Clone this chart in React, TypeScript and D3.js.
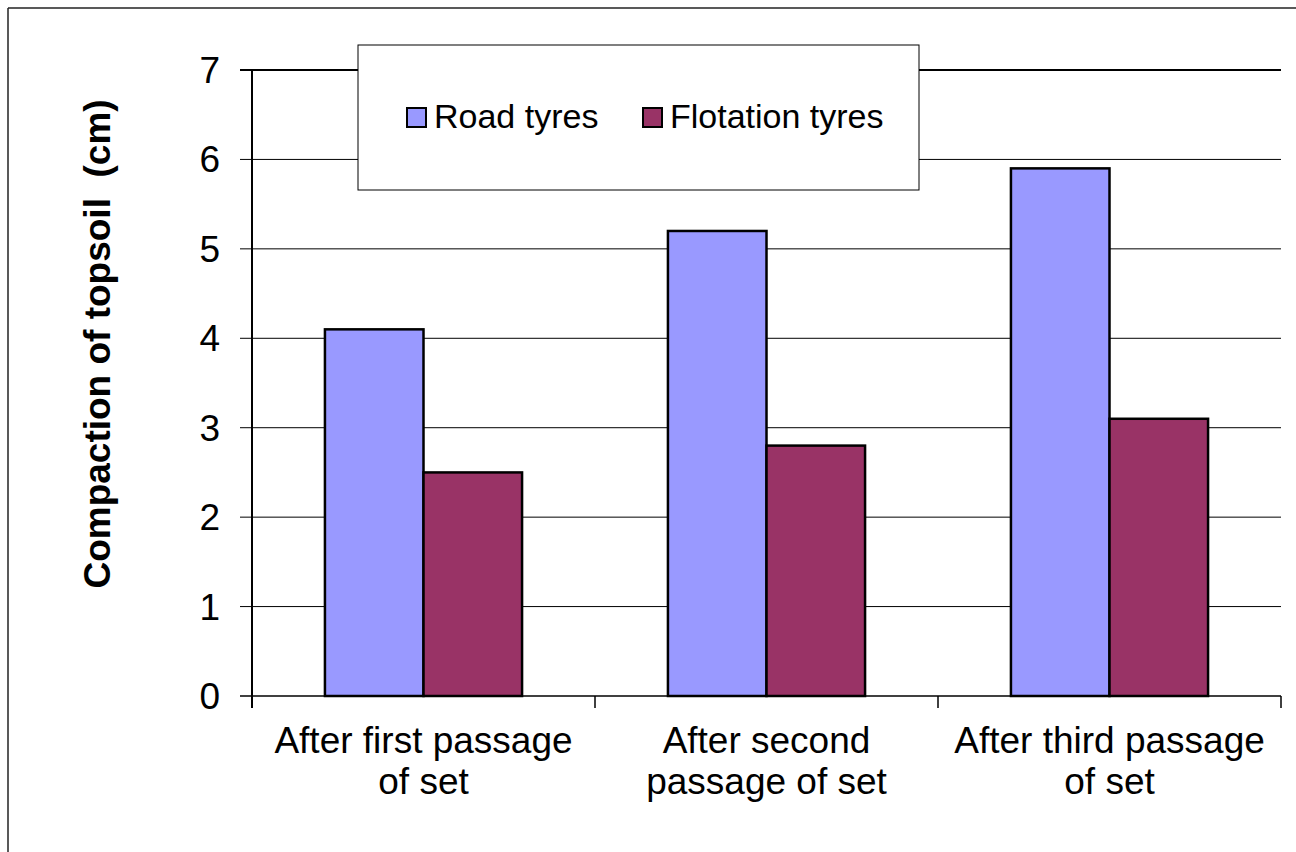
import React from "react";
import * as d3 from "d3";

const categories = [
  ["After first passage", "of set"],
  ["After second", "passage of set"],
  ["After third passage", "of set"],
];
const seriesNames = ["Road tyres", "Flotation tyres"];
const roadTyres = [4.1, 5.2, 5.9];
const flotationTyres = [2.5, 2.8, 3.1];
const seriesColors = ["#9999FF", "#993366"];
const yTicks = [0, 1, 2, 3, 4, 5, 6, 7];

const W = 1296;
const H = 852;
const FONT = "'Liberation Sans', Arial, sans-serif";

export default function App() {
  const left = 252;
  const right = 1281;
  const top = 70;
  const bottom = 696;

  const catKeys = categories.map((c) => c.join(" "));
  const x0 = d3.scaleBand<string>().domain(catKeys).range([left, right]).padding(0);
  const x1 = d3
    .scaleBand<string>()
    .domain(seriesNames)
    .range([0, x0.bandwidth()])
    .paddingInner(0)
    .paddingOuter(0.74);
  const y = d3.scaleLinear().domain([0, 7]).range([bottom, top]);

  const series = [roadTyres, flotationTyres];

  return (
    <div style={{ position: "absolute", left: 0, top: 0 }}>
      <svg width={W} height={H} style={{ display: "block", background: "#fff" }}>
        {/* outer chart frame */}
        <line x1={8} y1={8} x2={W} y2={8} stroke="#222" strokeWidth={1.5} />
        <line x1={8} y1={8} x2={8} y2={H} stroke="#222" strokeWidth={1.5} />

        {/* horizontal gridlines and y ticks */}
        {yTicks.map((t) => (
          <g key={t}>
            <line
              x1={240}
              x2={right}
              y1={y(t)}
              y2={y(t)}
              stroke="#000"
              strokeWidth={t === 7 ? 2 : t === 0 ? 1.5 : 1}
            />
            <text
              x={220}
              y={y(t) + 13}
              textAnchor="end"
              fontFamily={FONT}
              fontSize={37}
              fill="#000"
            >
              {t}
            </text>
          </g>
        ))}

        {/* bars */}
        {catKeys.map((c, i) => (
          <g key={c} transform={`translate(${x0(c)},0)`}>
            {seriesNames.map((s, j) => (
              <rect
                key={s}
                x={x1(s)}
                y={y(series[j][i])}
                width={x1.bandwidth()}
                height={y(0) - y(series[j][i])}
                fill={seriesColors[j]}
                stroke="#000"
                strokeWidth={2.5}
              />
            ))}
          </g>
        ))}

        {/* y axis */}
        <line x1={left} x2={left} y1={top} y2={bottom + 12} stroke="#000" strokeWidth={2} />
        {/* category tick marks */}
        {[...catKeys.map((c) => x0(c) as number), right].map((xv, i) => (
          <line key={i} x1={xv} x2={xv} y1={bottom} y2={bottom + 12} stroke="#000" strokeWidth={1.5} />
        ))}

        {/* category labels */}
        {categories.map((lines, i) => {
          const cx = (x0(catKeys[i]) as number) + x0.bandwidth() / 2;
          return (
            <text key={i} textAnchor="middle" fontFamily={FONT} fontSize={37} fill="#000">
              {lines.map((ln, k) => (
                <tspan key={k} x={cx} y={753 + k * 41}>
                  {ln}
                </tspan>
              ))}
            </text>
          );
        })}

        {/* y axis title */}
        <text
          transform={`translate(110,344) rotate(-90)`}
          textAnchor="middle"
          fontFamily={FONT}
          fontSize={37}
          fontWeight="bold"
          fill="#000"
          style={{ whiteSpace: "pre" }}
        >
          {"Compaction of topsoil  (cm)"}
        </text>

        {/* legend */}
        <rect x={358} y={45} width={561} height={145} fill="#fff" stroke="#000" strokeWidth={1} />
        {seriesNames.map((s, j) => {
          const sx = j === 0 ? 407 : 643;
          return (
            <g key={s}>
              <rect x={sx} y={108} width={19} height={19} fill={seriesColors[j]} stroke="#000" strokeWidth={2} />
              <text x={sx + 27} y={128} fontFamily={FONT} fontSize={34} fill="#000">
                {s}
              </text>
            </g>
          );
        })}
      </svg>
    </div>
  );
}
